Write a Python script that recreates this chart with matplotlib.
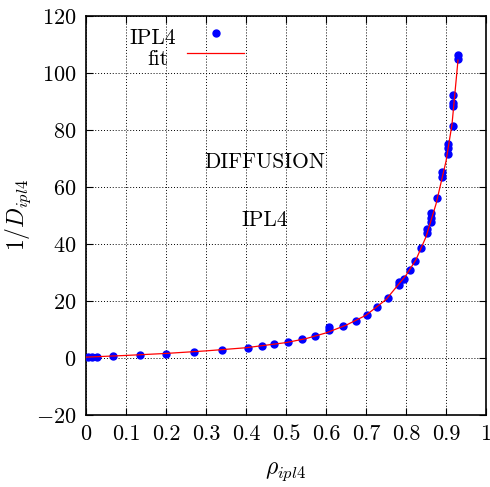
import matplotlib
matplotlib.use("Agg")
import matplotlib.pyplot as plt
from matplotlib.ticker import MultipleLocator
from matplotlib.lines import Line2D

plt.rcParams['font.family'] = ['cmr10', 'DejaVu Serif']
plt.rcParams['mathtext.fontset'] = 'cm'
plt.rcParams['axes.formatter.use_mathtext'] = True
plt.rcParams['axes.unicode_minus'] = True

# data points (rho, 1/D)
rho = [0.005, 0.015, 0.027, 0.068, 0.135, 0.2, 0.27, 0.34, 0.405, 0.44, 0.47,
       0.505, 0.54, 0.572, 0.607, 0.607, 0.642, 0.675, 0.702, 0.728, 0.755,
       0.7825, 0.7825, 0.795, 0.81, 0.8225, 0.8375, 0.852, 0.852, 0.8625,
       0.862, 0.862, 0.8775, 0.89, 0.89, 0.905, 0.905, 0.905, 0.9175,
       0.9175, 0.9175, 0.9175, 0.93, 0.93]
invD = [0.3, 0.3, 0.4, 0.8, 1.2, 1.5, 2.1, 2.8, 3.5, 4.2, 4.9,
        5.6, 6.7, 7.7, 9.8, 10.9, 11.2, 13.0, 15.1, 17.9, 21.0,
        25.5, 26.5, 27.7, 30.9, 34.0, 38.6, 43.9, 45.3, 47.7,
        49.0, 50.9, 56.0, 63.5, 65.3, 71.6, 73.7, 75.0, 81.4,
        88.4, 89.5, 92.3, 104.9, 106.3]

# fit curve
fit_rho = [0.0, 0.1, 0.2, 0.3, 0.4, 0.5, 0.55, 0.6, 0.65, 0.7, 0.75, 0.8,
           0.825, 0.85, 0.875, 0.9, 0.915, 0.93]
fit_invD = [0.3, 0.9, 1.6, 2.5, 3.6, 5.4, 6.8, 8.8, 11.5, 15.0, 20.5, 29.0,
            34.5, 42.5, 54.0, 69.0, 82.0, 104.5]

xticks = [0, 0.1, 0.2, 0.3, 0.4, 0.5, 0.6, 0.7, 0.8, 0.9, 1]
xticklabels = ['0', '0.1', '0.2', '0.3', '0.4', '0.5', '0.6', '0.7', '0.8', '0.9', '1']

W, H = 490, 487
fig = plt.figure(figsize=(W / 100, H / 100), dpi=100)
ax = fig.add_axes([86/W, 72/H, 400/W, 399/H])

ax.plot(rho, invD, 'o', color='#0000ff', markersize=5, zorder=3)
ax.plot(fit_rho, fit_invD, '-', color='#ff0000', lw=0.9, zorder=4)

ax.set_xlim(0, 1)
ax.set_ylim(-20, 120)
ax.set_xticks(xticks)
ax.set_xticklabels(xticklabels)
ax.yaxis.set_major_locator(MultipleLocator(20))
ax.grid(True, color='black', linestyle=(0, (1, 2)), linewidth=0.7)
ax.tick_params(direction='in', top=True, right=True, labelsize=16, length=5, pad=7)
for s in ax.spines.values():
    s.set_linewidth(1.2)

ax.set_xlabel(r'$\rho_{ipl4}$', fontsize=17, labelpad=12)
ax.set_ylabel(r'$1/D_{ipl4}$', fontsize=17, labelpad=2)

ax.text(0.4475, 68.8, 'DIFFUSION', fontsize=15.5, ha='center', va='center')
ax.text(0.4475, 48.4, 'IPL4', fontsize=15.5, ha='center', va='center')

# manual gnuplot-style key
fig.text(176/W, 1 - 38/H, 'IPL4', fontsize=15.5, ha='right', va='center')
fig.text(168/W, 1 - 59/H, 'fit', fontsize=15.5, ha='right', va='center')
fig.add_artist(Line2D([216/W], [1 - 33/H], marker='o', color='#0000ff',
                      markersize=5, linestyle='none', transform=fig.transFigure))
fig.add_artist(Line2D([187/W, 244/W], [1 - 53/H, 1 - 53/H], color='#ff0000',
                      lw=0.9, transform=fig.transFigure))

fig.savefig('out.png', dpi=100)
